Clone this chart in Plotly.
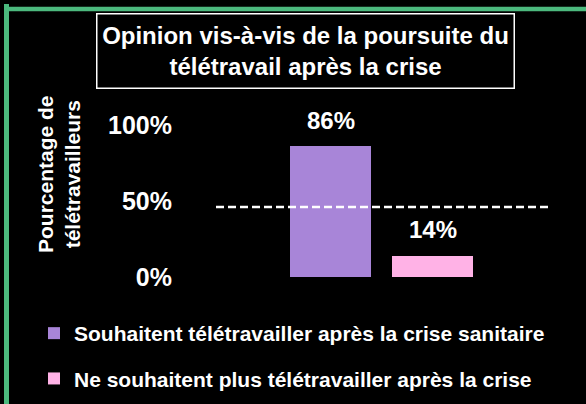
import plotly.graph_objects as go

# ---- data ----
categories = ["Souhaitent télétravailler après la crise sanitaire",
              "Ne souhaitent plus télétravailler après la crise"]
values = [86, 14]
bar_colors = ["#A885D8", "#FFB2E6"]
tick_values = [0, 50, 100]
tick_labels = ["0%", "50%", "100%"]
reference_value = 46
title_text = "Opinion vis-à-vis de la poursuite du<br>télétravail après la crise"
y_title_text = "Pourcentage de<br>télétravailleurs"

FONT = "Liberation Sans, Arial, Helvetica, sans-serif"

# layout geometry (pixels)
W, H = 586, 404
ML, MR, MT, MB = 216, 37, 125, 127
PW = W - ML - MR
PH = H - MT - MB


def px_x(p):
    return (p - ML) / PW


def px_y(p):
    return (H - MB - p) / PH


fig = go.Figure()
for i, (cat, val, col) in enumerate(zip(categories, values, bar_colors)):
    fig.add_trace(go.Bar(
        x=[i], y=[val], name=cat, width=0.8,
        marker=dict(color=col, line=dict(width=0)),
        legendgroup=f"g{i}", hoverinfo="skip",
    ))
    fig.add_annotation(
        x=i, y=val, xref="x", yref="y", text=f"<b>{val}%</b>",
        showarrow=False, yshift=26, yanchor="middle",
        font=dict(family=FONT, size=24, color="white"),
    )

# reference dashed line
fig.add_shape(type="line", xref="x domain", yref="y", x0=0, x1=1,
              y0=reference_value, y1=reference_value,
              line=dict(color="white", width=2.5, dash="8px,4px"))

# green frame (left and top edges only are visible)
GREEN = "#4CB97E"
fig.add_shape(type="line", xref="paper", yref="paper",
              x0=px_x(6.5), x1=px_x(6.5), y0=px_y(4), y1=px_y(H + 20),
              line=dict(color=GREEN, width=5), layer="below")
fig.add_shape(type="line", xref="paper", yref="paper",
              x0=px_x(4), x1=px_x(W + 20), y0=px_y(9), y1=px_y(9),
              line=dict(color=GREEN, width=4.5), layer="below")

# title in box
fig.add_annotation(
    xref="paper", yref="paper", x=px_x(305.5), y=px_y(51),
    xanchor="center", yanchor="middle", text=f"<b>{title_text}</b>",
    showarrow=False, width=416, height=73, align="center",
    bordercolor="white", borderwidth=1.5, borderpad=0,
    font=dict(family=FONT, size=24, color="white"),
)

# y axis title
fig.add_annotation(
    xref="paper", yref="paper", x=px_x(59), y=px_y(174),
    xanchor="center", yanchor="middle", text=f"<b>{y_title_text}</b>",
    showarrow=False, textangle=-90, align="center",
    font=dict(family=FONT, size=21, color="white"),
)

fig.update_layout(
    width=W, height=H,
    margin=dict(l=ML, r=MR, t=MT, b=MB, autoexpand=False),
    paper_bgcolor="black", plot_bgcolor="black",
    showlegend=True,
    legend=dict(
        x=px_x(34), y=px_y(313), xanchor="left", yanchor="top",
        font=dict(family=FONT, size=21, color="white", weight="bold"),
        bgcolor="rgba(0,0,0,0)", tracegroupgap=15, traceorder="grouped",
    ),
    xaxis=dict(range=[-1.123, 2.142], showgrid=False, zeroline=False,
               showticklabels=False, ticks="", showline=False, fixedrange=True),
    yaxis=dict(range=[0, 100], showgrid=False, zeroline=False, showline=False,
               tickvals=tick_values, ticktext=tick_labels, ticks="",
               ticklabelstandoff=43,
               tickfont=dict(family=FONT, size=25, color="white", weight="bold"),
               fixedrange=True),
    bargap=0,
)

fig.write_html(
    "out.html",
    config={"displayModeBar": False},
    post_script="document.body.style.margin='0';document.body.style.overflow='hidden';",
)
